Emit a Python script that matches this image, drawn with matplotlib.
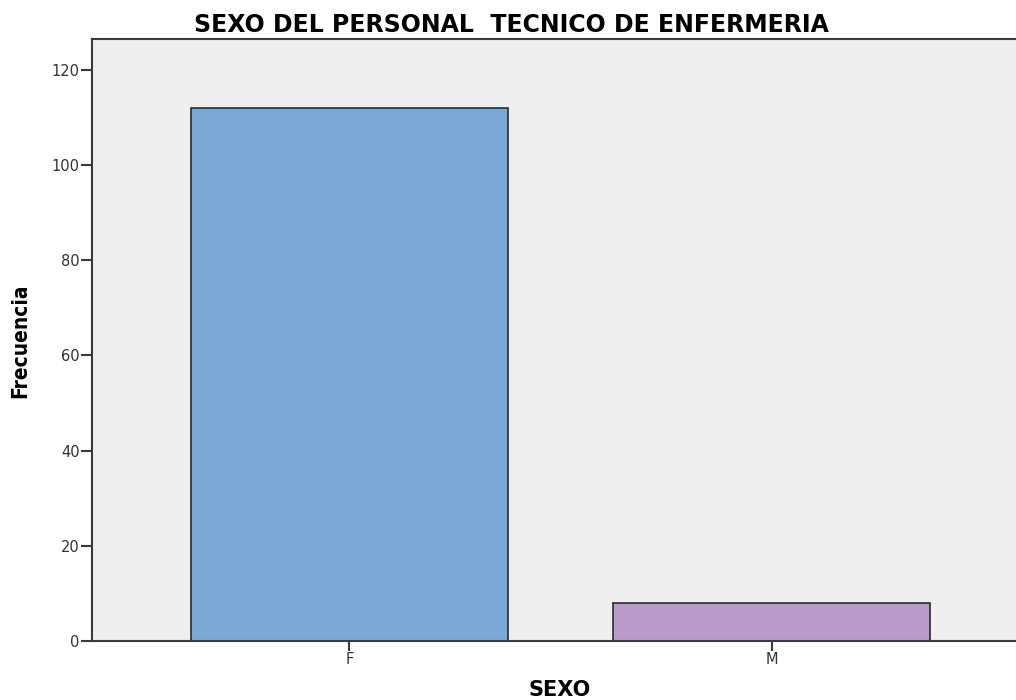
import matplotlib
matplotlib.use('Agg')
import matplotlib.pyplot as plt
import numpy as np

# data
categories = ['F', 'M']
counts = [112, 8]
bar_colors = ['#7BA8D5', '#B99BC9']
y_ticks = [0, 20, 40, 60, 80, 100, 120]

plt.rcParams['font.family'] = ['DejaVu Sans']

fig = plt.figure(figsize=(10.16, 7.0), dpi=100)
# axes run slightly past the right edge, like the SPSS export
ax = fig.add_axes([92 / 1016, 59 / 700, (1029 - 92) / 1016, 602 / 700])
ax.set_facecolor('#EFEFEF')

x_pos = np.arange(len(categories))
ax.bar(x_pos, counts, width=0.75, color=bar_colors, edgecolor='#2B2B2B', linewidth=1.2)

ax.set_xlim(-0.61, 1.61)
ax.set_ylim(0, 126.5)
ax.set_xticks(x_pos)
ax.set_xticklabels(categories)
ax.set_yticks(y_ticks)

for side in ['top', 'left', 'bottom']:
    ax.spines[side].set_color('#3A3A3A')
    ax.spines[side].set_linewidth(1.5)
ax.spines['right'].set_visible(False)
ax.tick_params(axis='y', colors='#3A3A3A', labelcolor='#333333', labelsize=10.5,
               length=8, width=1.5, pad=1)
ax.tick_params(axis='x', colors='#3A3A3A', labelcolor='#333333', labelsize=10.5,
               length=7, width=1.5, pad=1)

fig.text(511 / 1016, 1 - 25 / 700, 'SEXO DEL PERSONAL  TECNICO DE ENFERMERIA',
         ha='center', va='center', fontsize=17, fontweight='bold')
fig.text(560 / 1016, 1 - 690 / 700, 'SEXO', ha='center', va='center',
         fontsize=15, fontweight='bold')
fig.text(20 / 1016, 1 - 341 / 700, 'Frecuencia', ha='center', va='center', rotation=90,
         fontsize=15, fontweight='bold', fontstretch='condensed')

plt.savefig('out.png', dpi=100)
